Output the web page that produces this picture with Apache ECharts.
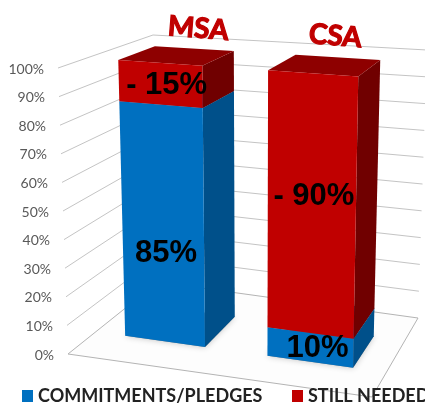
<!DOCTYPE html>
<html>
    <head>
        <meta charset="utf-8">
        <title>MSA / CSA</title>
        <script src="https://cdn.jsdelivr.net/npm/echarts@6/dist/echarts.min.js"></script>
        <style>
            html, body { margin: 0; padding: 0; background: #fff; }
        </style>
    </head>
    <body>
        <div id="main" style="width:425px; height:403px;"></div>
        <script type="text/javascript">
            var categories = ['MSA', 'CSA']
            var commitments = [85, 10]
            var stillNeeded = [15, 90]
            var commitmentLabels = ['85%', '10%']
            var stillNeededLabels = ['- 15%', '- 90%']
            var tickValues = [0, 10, 20, 30, 40, 50, 60, 70, 80, 90, 100]
            var tickLabels = ['0%', '10%', '20%', '30%', '40%', '50%', '60%', '70%', '80%', '90%', '100%']
            var legendNames = ['COMMITMENTS/PLEDGES', 'STILL NEEDED']

            var BLUE = '#0070c0'
            var RED = '#c00000'

            // the flat grid that the axes live on
            var GRID = {left: 68, top: 68, width: 304, height: 286}
            var BAR_RATIO = 0.57
            var DEPTH_FRONT = 0.31
            var DEPTH_BACK = 0.715

            // corners of the 3d box on screen: floor and 100% level
            var FLOOR = {fl: [68, 354], fr: [372, 397], br: [418, 318], bl: [158, 282]}
            var CEIL = {fl: [58, 68], fr: [378, 92], br: [427, 50], bl: [153, 35]}

            var bilinear = function(q, u, v) {
                var r = []
                for (var k = 0; k < 2; k++) {
                    var front = q.fl[k] + (q.fr[k] - q.fl[k]) * u
                    var back = q.bl[k] + (q.br[k] - q.bl[k]) * u
                    r.push(front + (back - front) * v)
                }
                return r
            }

            // u: across, v: depth, w: height, all 0..1
            var project = function(u, v, w) {
                var a = bilinear(FLOOR, u, v)
                var b = bilinear(CEIL, u, v)
                return [a[0] + (b[0] - a[0]) * w, a[1] + (b[1] - a[1]) * w]
            }

            var heightOf = function(api, value) {
                return (GRID.top + GRID.height - api.coord([0, value])[1]) / GRID.height
            }

            // the right side of the picture is closer, so bars widen a little going right
            var foreshorten = function(t) {
                return 0.07 * t * t + 0.93 * t
            }

            var barSpan = function(api, index) {
                var center = api.coord([index, 0])[0]
                var half = api.size([1, 0])[0] * BAR_RATIO / 2
                return [
                    foreshorten((center - half - GRID.left) / GRID.width),
                    foreshorten((center + half - GRID.left) / GRID.width)
                ]
            }

            var poly = function(points, fill) {
                return {type: 'polygon', shape: {points: points}, style: {fill: fill}}
            }

            var renderWall = function(params, api) {
                var value = api.value(1)
                var w = heightOf(api, value)
                var stroke = {stroke: '#c4c4c4', fill: null, lineWidth: 1}
                var children = []
                if (value === 0) {
                    children.push({
                        type: 'polygon',
                        shape: {points: [project(0, 0, 0), project(1, 0, 0), project(1, 1, 0), project(0, 1, 0)]},
                        style: {fill: '#fdfdfd', stroke: '#b4b4b4', lineWidth: 1}
                    })
                } else {
                    children.push({
                        type: 'polyline',
                        shape: {points: [project(0, 0, w), project(0, 1, w), project(1, 1, w)]},
                        style: stroke
                    })
                }
                var p = project(0, 0, w)
                children.push({
                    type: 'text',
                    style: {
                        x: p[0] - 14,
                        y: p[1] + 1,
                        text: tickLabels[params.dataIndex],
                        align: 'right',
                        verticalAlign: 'middle',
                        font: '14px Lato',
                        fill: '#595959'
                    }
                })
                return {type: 'group', children: children}
            }

            var renderBar = function(colors, hasShadow) {
                return function(params, api) {
                    var span = barSpan(api, api.value(0))
                    var lo = heightOf(api, api.value(2))
                    var hi = heightOf(api, api.value(2) + api.value(1))
                    var u0 = span[0], u1 = span[1]
                    var children = []
                    if (hasShadow) {
                        children.push({
                            type: 'polygon',
                            shape: {points: [project(u0, DEPTH_FRONT, 0), project(u1, DEPTH_FRONT, 0), project(u1, DEPTH_BACK, 0), project(u0, DEPTH_BACK, 0)]},
                            style: {fill: 'rgba(0,0,0,0.4)', shadowBlur: 6, shadowColor: 'rgba(0,0,0,0.6)'}
                        })
                    }
                    children.push(poly([project(u1, DEPTH_FRONT, lo), project(u1, DEPTH_BACK, lo), project(u1, DEPTH_BACK, hi), project(u1, DEPTH_FRONT, hi)], colors.side))
                    children.push(poly([project(u0, DEPTH_FRONT, hi), project(u1, DEPTH_FRONT, hi), project(u1, DEPTH_BACK, hi), project(u0, DEPTH_BACK, hi)], colors.top))
                    children.push(poly([project(u0, DEPTH_FRONT, lo), project(u1, DEPTH_FRONT, lo), project(u1, DEPTH_FRONT, hi), project(u0, DEPTH_FRONT, hi)], colors.front))
                    return {type: 'group', children: children}
                }
            }

            // the labels do not sit exactly mid segment in the picture
            var LABEL_NUDGE = [[[3, 30], [7, 1]], [[6, 2], [2, -7]]]
            var renderLabel = function(params, api) {
                var index = api.value(0)
                var span = barSpan(api, index)
                var mid = heightOf(api, api.value(2) + api.value(1) / 2)
                var p = project((span[0] + span[1]) / 2, DEPTH_FRONT, mid)
                var nudge = LABEL_NUDGE[api.value(3)][index]
                var texts = api.value(3) === 0 ? commitmentLabels : stillNeededLabels
                return {
                    type: 'text',
                    style: {
                        x: p[0] + nudge[0],
                        y: p[1] + nudge[1],
                        text: texts[index],
                        align: 'center',
                        verticalAlign: 'middle',
                        font: 'bold 31px "Liberation Sans"',
                        fill: '#000'
                    }
                }
            }

            var renderTitle = function(params, api) {
                var span = barSpan(api, api.value(0))
                var p = project((span[0] + span[1]) / 2, 1, heightOf(api, api.value(1)))
                return {
                    type: 'text',
                    x: p[0] - 20,
                    y: p[1] - 10,
                    rotation: -0.08,
                    style: {
                        x: 0,
                        y: 0,
                        text: categories[params.dataIndex],
                        align: 'center',
                        verticalAlign: 'middle',
                        font: 'bold 28px Lato',
                        fill: RED,
                        stroke: RED,
                        lineWidth: 1.2
                    }
                }
            }

            var barRows = function(values, bases) {
                return values.map(function(v, i) {
                    return [i, v, bases ? bases[i] : 0]
                })
            }

            var labelRows = []
            categories.forEach(function(c, i) {
                labelRows.push([i, commitments[i], 0, 0])
                labelRows.push([i, stillNeeded[i], commitments[i], 1])
            })

            var legendStyle = {
                top: 387,
                padding: 0,
                icon: 'rect',
                itemWidth: 11,
                itemHeight: 12,
                selectedMode: false,
                textStyle: {fontFamily: 'Lato', fontWeight: 'bold', fontSize: 18, color: '#222'}
            }

            var myChart = echarts.init(document.querySelector('#main'))
            var option = {
                animation: false,
                backgroundColor: '#fff',
                grid: {left: GRID.left, top: GRID.top, width: GRID.width, height: GRID.height},
                xAxis: {type: 'category', data: categories, show: false},
                yAxis: {type: 'value', min: 0, max: 100, interval: 10, show: false},
                // two legends, one long row would wrap at the window edge
                legend: [
                    Object.assign({data: [legendNames[0]], left: 22}, legendStyle),
                    Object.assign({data: [legendNames[1]], left: 292}, legendStyle)
                ],
                series: [
                    {
                        name: 'walls',
                        type: 'custom',
                        silent: true,
                        renderItem: renderWall,
                        encode: {x: 0, y: 1},
                        data: tickValues.map(function(t) { return [0, t] })
                    },
                    {
                        name: legendNames[0],
                        type: 'custom',
                        silent: true,
                        itemStyle: {color: BLUE},
                        renderItem: renderBar({front: BLUE, side: '#00508a', top: '#005c9e'}, true),
                        encode: {x: 0, y: 1},
                        data: barRows(commitments)
                    },
                    {
                        name: legendNames[1],
                        type: 'custom',
                        silent: true,
                        itemStyle: {color: RED},
                        renderItem: renderBar({front: RED, side: '#700000', top: '#8e0000'}, false),
                        encode: {x: 0, y: 1},
                        data: barRows(stillNeeded, commitments)
                    },
                    {
                        name: 'labels',
                        type: 'custom',
                        silent: true,
                        renderItem: renderLabel,
                        encode: {x: 0, y: 1},
                        data: labelRows
                    },
                    {
                        name: 'titles',
                        type: 'custom',
                        silent: true,
                        renderItem: renderTitle,
                        encode: {x: 0, y: 1},
                        data: categories.map(function(c, i) { return [i, 100] })
                    }
                ]
            }
            myChart.setOption(option)
        </script>
    </body>
</html>
